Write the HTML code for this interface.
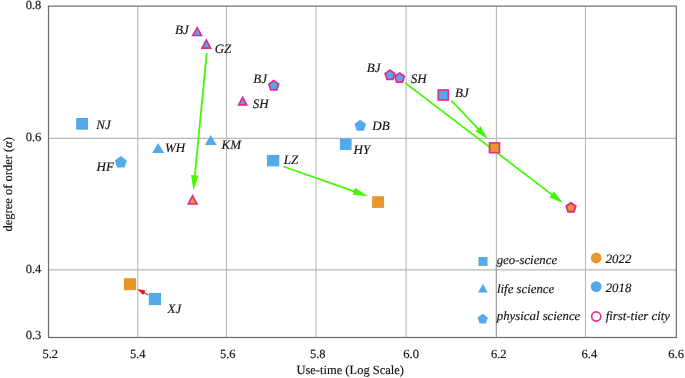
<!DOCTYPE html>
<html><head><meta charset="utf-8"><style>
html,body{margin:0;padding:0;background:#fff;width:685px;height:378px;overflow:hidden}
svg{display:block;will-change:transform;font-family:"Liberation Serif",serif;fill:#111}
text{fill:#111;stroke:#111;stroke-width:0.15px;text-rendering:geometricPrecision}
</style></head><body>
<svg width="685" height="378" viewBox="0 0 685 378">
<line x1="137.8" y1="6" x2="137.8" y2="337.4" stroke="#B8B8B8" stroke-width="1.1"/>
<line x1="226.5" y1="6" x2="226.5" y2="337.4" stroke="#B8B8B8" stroke-width="1.1"/>
<line x1="316.0" y1="6" x2="316.0" y2="337.4" stroke="#B8B8B8" stroke-width="1.1"/>
<line x1="406.1" y1="6" x2="406.1" y2="337.4" stroke="#B8B8B8" stroke-width="1.1"/>
<line x1="496.4" y1="6" x2="496.4" y2="337.4" stroke="#B8B8B8" stroke-width="1.1"/>
<line x1="585.5" y1="6" x2="585.5" y2="337.4" stroke="#B8B8B8" stroke-width="1.1"/>
<line x1="48.5" y1="138.4" x2="676" y2="138.4" stroke="#B8B8B8" stroke-width="1.1"/>
<line x1="48.5" y1="269.9" x2="676" y2="269.9" stroke="#B8B8B8" stroke-width="1.1"/>
<line x1="496.3" y1="264" x2="496.3" y2="337" stroke="#9c9c9c" stroke-width="0.9"/>
<rect x="48.5" y="6.1" width="627.8" height="331.4" fill="none" stroke="#6c6c6c" stroke-width="1.2"/>
<line x1="206.7" y1="53.2" x2="194.75" y2="176.47" stroke="#44F805" stroke-width="1.8"/><polygon points="193.4,190.4 191.11,175.11 198.58,175.83" fill="#44F805"/>
<line x1="283.4" y1="166.5" x2="354.79" y2="191.56" stroke="#44F805" stroke-width="1.8"/><polygon points="368,196.2 352.6,194.77 355.09,187.69" fill="#44F805"/>
<line x1="405.1" y1="82.9" x2="552.56" y2="195.13" stroke="#44F805" stroke-width="1.8"/><polygon points="562.9,203 549.49,197.51 554.03,191.54" fill="#44F805"/>
<line x1="451.5" y1="100.7" x2="478.67" y2="129.45" stroke="#44F805" stroke-width="1.8"/><polygon points="487.6,138.9 475.26,131.3 480.71,126.15" fill="#44F805"/>
<line x1="148.3" y1="294.9" x2="143.32" y2="292.32" stroke="#EE1414" stroke-width="1.1"/><polygon points="137.1,289.1 145.35,290.56 143.05,295" fill="#EE1414"/>
<rect x="76.2" y="118" width="11.9" height="11.7" fill="#52AAEA"/>
<polygon points="158.2,142.9 164.2,153.1 152.2,153.1" fill="#52AAEA"/>
<polygon points="120.85,156 126.9,160.4 124.59,167.51 117.11,167.51 114.8,160.4" fill="#52AAEA"/>
<polygon points="210.75,135 216.7,144.9 204.8,144.9" fill="#52AAEA"/>
<rect x="266.9" y="154.9" width="12.4" height="11.5" fill="#52AAEA"/>
<rect x="339.9" y="138.5" width="11.7" height="11.5" fill="#52AAEA"/>
<polygon points="360.3,119.7 366.1,123.91 363.88,130.73 356.72,130.73 354.5,123.91" fill="#52AAEA"/>
<rect x="148.8" y="292.9" width="12.2" height="12.2" fill="#52AAEA"/>
<rect x="123.9" y="278.2" width="12.2" height="12" fill="#E5972A"/>
<rect x="372.1" y="196.2" width="12" height="11.7" fill="#E5972A"/>
<polygon points="197.15,27.65 201.47,35.47 192.83,35.47" fill="#52AAEA" stroke="#E42A8C" stroke-width="1.65" stroke-linejoin="miter" stroke-miterlimit="10"/>
<polygon points="206.35,40.05 210.67,48.07 202.03,48.07" fill="#52AAEA" stroke="#E42A8C" stroke-width="1.65" stroke-linejoin="miter" stroke-miterlimit="10"/>
<polygon points="192.6,195.85 196.97,203.98 188.23,203.98" fill="#E5972A" stroke="#E42A8C" stroke-width="1.65" stroke-linejoin="miter" stroke-miterlimit="10"/>
<polygon points="242.7,97.35 246.77,104.88 238.63,104.88" fill="#52AAEA" stroke="#E42A8C" stroke-width="1.65" stroke-linejoin="miter" stroke-miterlimit="10"/>
<polygon points="273.8,80.61 278.64,84.13 276.79,89.82 270.81,89.82 268.96,84.13" fill="#52AAEA" stroke="#E42A8C" stroke-width="1.8" stroke-linejoin="miter"/>
<polygon points="390,70.11 394.84,73.63 392.99,79.32 387.01,79.32 385.16,73.63" fill="#52AAEA" stroke="#E42A8C" stroke-width="1.8" stroke-linejoin="miter"/>
<polygon points="399.6,73.01 404.34,76.46 402.53,82.03 396.67,82.03 394.86,76.46" fill="#52AAEA" stroke="#E42A8C" stroke-width="1.8" stroke-linejoin="miter"/>
<rect x="438.22" y="90.03" width="10.05" height="9.95" fill="#52AAEA" stroke="#E42A8C" stroke-width="1.65"/>
<rect x="489.52" y="142.92" width="9.95" height="9.75" fill="#E5972A" stroke="#E42A8C" stroke-width="1.65"/>
<polygon points="571,202.71 575.74,206.16 573.93,211.73 568.07,211.73 566.26,206.16" fill="#E5972A" stroke="#E42A8C" stroke-width="1.8" stroke-linejoin="miter"/>
<rect x="478.5" y="257" width="9" height="8.9" fill="#52AAEA"/>
<polygon points="482.9,283.7 487.8,292.4 478,292.4" fill="#52AAEA"/>
<polygon points="482.7,313.8 487.8,317.51 485.85,323.5 479.55,323.5 477.6,317.51" fill="#52AAEA"/>
<circle cx="596.2" cy="258" r="5.4" fill="#E5972A"/>
<circle cx="596.2" cy="286.6" r="5.4" fill="#52AAEA"/>
<circle cx="596.2" cy="316.5" r="4.6" fill="none" stroke="#E42A8C" stroke-width="1.6"/>
<text x="96.3" y="128.9" font-size="13" font-style="italic" text-anchor="start" >NJ</text>
<text x="164.9" y="151.8" font-size="13" font-style="italic" text-anchor="start" >WH</text>
<text x="221.6" y="148.8" font-size="13" font-style="italic" text-anchor="start" >KM</text>
<text x="96.5" y="170.5" font-size="13" font-style="italic" text-anchor="start" >HF</text>
<text x="283.8" y="164.2" font-size="13" font-style="italic" text-anchor="start" >LZ</text>
<text x="353.6" y="153.7" font-size="13" font-style="italic" text-anchor="start" >HY</text>
<text x="372.3" y="129.5" font-size="13" font-style="italic" text-anchor="start" >DB</text>
<text x="167.6" y="313" font-size="13" font-style="italic" text-anchor="start" >XJ</text>
<text x="175" y="33.7" font-size="13" font-style="italic" text-anchor="start" >BJ</text>
<text x="214.7" y="52.7" font-size="13" font-style="italic" text-anchor="start" >GZ</text>
<text x="253.3" y="82.7" font-size="13" font-style="italic" text-anchor="start" >BJ</text>
<text x="252.8" y="107.6" font-size="13" font-style="italic" text-anchor="start" >SH</text>
<text x="366.7" y="71.9" font-size="13" font-style="italic" text-anchor="start" >BJ</text>
<text x="410.8" y="83.3" font-size="13" font-style="italic" text-anchor="start" >SH</text>
<text x="455.1" y="97.1" font-size="13" font-style="italic" text-anchor="start" >BJ</text>
<text x="496.7" y="263.9" font-size="12.8" font-style="italic" text-anchor="start" >geo-science</text>
<text x="497" y="292.5" font-size="12.8" font-style="italic" text-anchor="start" >life science</text>
<text x="496.8" y="319.8" font-size="12.8" font-style="italic" text-anchor="start" >physical science</text>
<text x="605.7" y="262.9" font-size="12.8" font-style="italic" text-anchor="start" >2022</text>
<text x="605.7" y="291.5" font-size="12.8" font-style="italic" text-anchor="start" >2018</text>
<text x="605.7" y="320.2" font-size="12.8" font-style="italic" text-anchor="start" >first-tier city</text>
<text x="50.2" y="358.4" font-size="12.5" font-style="normal" text-anchor="middle" >5.2</text>
<text x="137.8" y="358.4" font-size="12.5" font-style="normal" text-anchor="middle" >5.4</text>
<text x="227.7" y="358.4" font-size="12.5" font-style="normal" text-anchor="middle" >5.6</text>
<text x="317.8" y="358.4" font-size="12.5" font-style="normal" text-anchor="middle" >5.8</text>
<text x="411.1" y="358.4" font-size="12.5" font-style="normal" text-anchor="middle" >6.0</text>
<text x="498.7" y="358.4" font-size="12.5" font-style="normal" text-anchor="middle" >6.2</text>
<text x="589.4" y="358.4" font-size="12.5" font-style="normal" text-anchor="middle" >6.4</text>
<text x="676.1" y="358.4" font-size="12.5" font-style="normal" text-anchor="middle" >6.6</text>
<text x="41.3" y="9.2" font-size="12.5" font-style="normal" text-anchor="end" >0.8</text>
<text x="41.3" y="141.4" font-size="12.5" font-style="normal" text-anchor="end" >0.6</text>
<text x="41.3" y="273" font-size="12.5" font-style="normal" text-anchor="end" >0.4</text>
<text x="41.3" y="338.8" font-size="12.5" font-style="normal" text-anchor="end" >0.3</text>
<text x="350.2" y="374.2" font-size="12.5" font-style="normal" text-anchor="middle" >Use-time (Log Scale)</text>
<text transform="translate(11.7,184.3) rotate(-90)" font-size="12.5" text-anchor="middle">degree of order (<tspan font-style="italic">α</tspan>)</text>
</svg>
</body></html>
